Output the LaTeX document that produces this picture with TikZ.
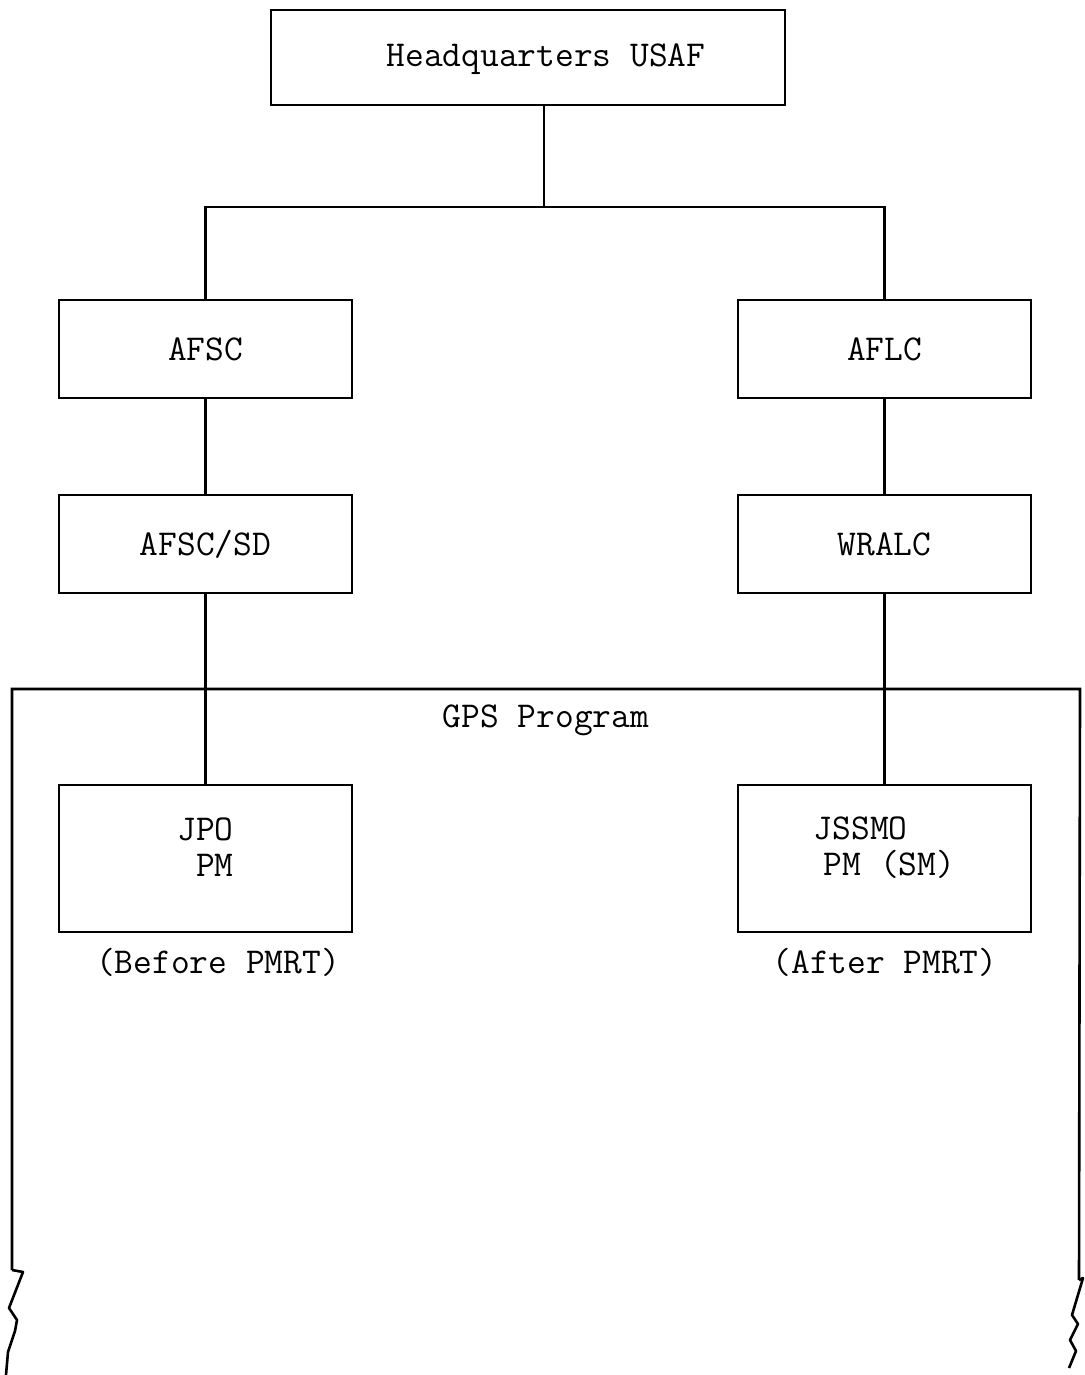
\documentclass[tikz,border=0pt]{standalone}
\usepackage{fontspec}
\usepackage{tikz}
\usetikzlibrary{positioning}

\newcommand{\orgfont}{\ttfamily\fontsize{18.2}{18}\selectfont}

\begin{document}
\begin{tikzpicture}[
    x=0.5pt, y=-0.5pt,
    every node/.style={font=\orgfont, inner sep=0pt},
    unit/.style={rectangle, draw, line width=1.3pt, minimum width=146.5pt, minimum height=49pt, align=center},
    office/.style={unit, minimum height=73.5pt},
    link/.style={line width=1.3pt}
]
\useasboundingbox (0,0) rectangle (1085,1375);

% Top level
\node[unit, minimum width=257pt, minimum height=47.5pt] (hq) at (528,57.5) {};
\node (hqtext) at (546,59) {Headquarters USAF};
\coordinate (split) at (544,207);

% Commands
\node[unit] (afsc) at (205.5,349) {AFSC};
\node[unit] (aflc) at (884.5,349) {AFLC};
\node[unit] (sd) at (205.5,544) {AFSC/SD};
\node[unit] (wralc) at (884.5,544) {WRALC};

% Program offices
\node[office] (jpo) at (205.5,858.5) {};
\node[align=left] (jpotext) at ([yshift=5.5pt]jpo.center) {JPO\\~PM};
\node[office] (jssmo) at (884.5,858.5) {};
\node[align=left] (jssmotext) at ([yshift=5.5pt]jssmo.center) {JSSMO\\\hspace*{5pt}PM~(SM)};
\node (before) at (218,962) {(Before PMRT)};
\node (after) at (885,962) {(After PMRT)};

% GPS program frame
\coordinate (gpsleft) at (12,1270);
\coordinate (gpsright) at (1079,1280);
\node (gps) at (546,720) {GPS Program};
\draw[link] (gpsleft) -- (12,689) -- (1080,689) -- (gpsright);
\draw[link, line join=round] (gpsleft) -- (23,1272) -- (9,1308) -- (17,1320) -- (15,1331) -- (8,1352) -- (6,1375);
\draw[link, line join=round] (gpsright) -- (1083,1278) -- (1072,1315) -- (1078,1324) -- (1070,1340) -- (1076,1351) -- (1069,1368);

% Lines
\draw[link] (hq.south -| split) -- (split);
\draw[link] (afsc.north) |- (split) -| (aflc.north);
\draw[link] (afsc) -- (sd);
\draw[link] (aflc) -- (wralc);
\draw[link] (sd) -- (jpo);
\draw[link] (wralc) -- (jssmo);

\end{tikzpicture}
\end{document}
